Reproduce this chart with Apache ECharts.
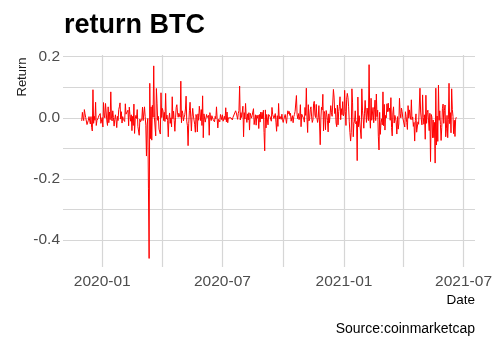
<!DOCTYPE html>
<html>
<head>
<meta charset="utf-8">
<script src="https://cdn.jsdelivr.net/npm/echarts@6/dist/echarts.min.js"></script>
<style>
  html, body { margin: 0; padding: 0; background: #ffffff; }
  #chart { width: 495px; height: 337px; }
</style>
</head>
<body>
<div id="chart"></div>
<script>
// Daily BTC returns, one array per month, starting 2019-12-01
const dec2019 = [-0.010, 0.018, 0.000, -0.009, 0.027, 0.013, 0.001, 0.001, -0.022, -0.017, -0.008, 0.004, 0.004, -0.020, 0.004, -0.031, -0.043, 0.092, -0.018, 0.005, -0.008, 0.051, -0.025, -0.009, -0.007, 0.000, 0.007, 0.009, 0.014, -0.018, -0.014];
const jan2020 = [0.001, -0.030, 0.050, 0.009, 0.000, 0.047, 0.049, -0.010, -0.025, 0.036, -0.016, 0.019, -0.006, 0.085, -0.002, -0.010, 0.023, 0.001, -0.027, -0.006, 0.010, -0.007, -0.032, 0.005, -0.009, 0.027, 0.036, 0.049, -0.004, 0.020, -0.017];
const feb2020 = [0.004, -0.005, -0.005, -0.012, 0.046, 0.012, 0.007, 0.007, 0.025, -0.026, 0.035, 0.011, -0.011, 0.010, -0.042, 0.005, -0.025, 0.045, -0.051, -0.003, 0.008, -0.002, 0.027, -0.028, -0.033, -0.057, -0.004, -0.013, -0.008];
const mar2020 = [-0.004, 0.035, -0.009, -0.004, 0.036, 0.005, -0.024, -0.125, -0.023, -0.002, -0.230, -0.460, 0.113, -0.068, 0.036, -0.073, 0.041, 0.002, 0.170, 0.001, -0.002, -0.059, 0.096, 0.048, -0.008, 0.005, -0.037, -0.036, -0.053, 0.082, 0.001];
const apr2020 = [0.031, 0.023, -0.009, 0.018, -0.012, 0.080, -0.004, 0.009, -0.009, -0.062, -0.001, 0.016, -0.018, 0.000, -0.030, 0.069, -0.003, 0.022, -0.009, -0.044, 0.000, 0.034, 0.043, 0.016, 0.002, 0.015, 0.015, 0.002, 0.120, -0.016];
const may2020 = [0.023, 0.014, -0.010, 0.002, 0.010, 0.029, 0.071, -0.011, -0.026, -0.091, -0.018, 0.023, 0.051, 0.049, -0.043, 0.005, 0.031, 0.006, 0.000, -0.021, -0.047, 0.011, 0.003, -0.046, 0.013, -0.008, 0.038, 0.037, -0.009, 0.027, -0.025];
const jun2020 = [0.072, -0.065, 0.013, 0.015, -0.014, -0.001, 0.011, 0.001, 0.002, 0.008, -0.057, 0.017, 0.000, -0.009, 0.007, 0.009, -0.006, -0.007, -0.013, 0.005, -0.003, 0.036, -0.002, -0.033, -0.005, -0.011, -0.013, 0.011, 0.005, -0.006];
const jul2020 = [0.010, -0.011, -0.004, 0.005, -0.006, 0.033, -0.013, 0.019, -0.016, 0.000, -0.004, 0.004, -0.004, 0.000, -0.006, -0.007, 0.002, 0.001, 0.003, -0.002, 0.023, 0.016, 0.006, -0.005, 0.015, 0.023, 0.104, -0.007, 0.017, 0.001, 0.019];
const aug2020 = [0.038, -0.062, 0.017, -0.004, 0.047, 0.003, -0.015, 0.013, -0.007, 0.017, -0.040, 0.015, 0.017, -0.001, 0.008, 0.002, 0.030, -0.022, -0.020, 0.010, -0.024, 0.008, -0.001, 0.009, -0.035, 0.011, -0.014, 0.019, -0.003, 0.018, -0.003];
const sep2020 = [0.025, -0.048, -0.108, 0.026, -0.033, 0.011, 0.009, -0.023, 0.011, 0.012, 0.004, 0.004, -0.011, 0.034, 0.011, 0.016, -0.002, 0.000, 0.014, -0.014, -0.044, 0.007, -0.028, 0.047, -0.004, 0.005, 0.002, -0.005, 0.012, -0.006];
const oct2020 = [-0.015, -0.004, -0.002, 0.011, 0.011, -0.018, 0.006, 0.023, 0.014, 0.021, 0.008, 0.015, -0.011, 0.000, 0.007, -0.016, 0.004, 0.011, 0.021, 0.015, 0.073, 0.011, -0.003, 0.014, -0.006, 0.003, 0.043, -0.029, 0.012, 0.008, 0.017];
const nov2020 = [-0.003, -0.014, 0.034, 0.008, 0.097, -0.001, -0.048, 0.043, -0.010, -0.003, 0.027, 0.036, 0.003, -0.015, -0.007, 0.047, 0.054, 0.009, 0.001, 0.044, 0.001, -0.015, 0.000, 0.040, -0.020, -0.088, -0.002, 0.035, 0.026, 0.077];
const dec2020 = [-0.043, 0.021, 0.013, -0.039, 0.024, 0.010, -0.008, -0.046, 0.013, -0.016, -0.011, 0.040, 0.018, 0.005, 0.009, 0.093, 0.068, 0.014, 0.031, -0.017, -0.029, 0.042, -0.023, 0.021, 0.038, 0.069, -0.006, 0.030, 0.010, 0.053, 0.006];
const jan2021 = [0.013, 0.090, 0.020, -0.025, 0.061, 0.080, 0.067, 0.036, -0.013, -0.048, -0.076, -0.047, 0.095, 0.049, -0.062, -0.018, -0.011, 0.023, -0.020, -0.012, -0.140, 0.068, -0.029, 0.007, 0.002, 0.006, -0.068, 0.095, 0.025, -0.001, -0.034];
const feb2021 = [0.013, 0.057, 0.054, -0.015, 0.032, 0.029, -0.009, 0.174, 0.006, -0.034, 0.064, -0.008, -0.008, 0.034, -0.016, 0.026, 0.058, -0.009, 0.078, 0.004, 0.025, -0.060, -0.105, 0.018, -0.054, -0.016, -0.003, -0.023];
const mar2021 = [0.085, -0.026, 0.044, -0.040, 0.008, 0.000, 0.046, 0.020, 0.048, 0.021, 0.032, -0.008, 0.066, -0.032, -0.059, 0.016, 0.036, -0.017, 0.008, -0.001, -0.014, -0.053, 0.004, -0.037, -0.020, 0.064, 0.015, 0.000, 0.032, 0.020, 0.000];
const apr2021 = [0.003, 0.005, -0.030, 0.020, 0.005, -0.015, -0.038, 0.040, -0.001, 0.026, 0.007, -0.005, 0.059, -0.006, 0.003, -0.028, -0.015, -0.076, -0.009, 0.013, -0.047, -0.041, -0.013, -0.021, -0.021, 0.097, 0.019, -0.004, -0.023, 0.075];
const may2021 = [0.001, -0.021, 0.010, -0.070, 0.074, -0.018, 0.017, 0.025, -0.010, -0.042, 0.015, -0.143, 0.011, 0.003, -0.065, -0.007, -0.065, -0.015, -0.148, 0.097, -0.089, 0.006, -0.077, 0.107, -0.008, 0.023, -0.022, -0.074, -0.031, 0.030, 0.045];
const jun2021 = [-0.018, 0.024, 0.042, -0.062, -0.036, 0.008, -0.065, -0.005, 0.113, -0.019, 0.017, -0.049, 0.095, 0.028, 0.005, -0.052, -0.008, -0.061, -0.005, 0.002];

const returns = [].concat(
  dec2019, jan2020, feb2020, mar2020, apr2020, may2020, jun2020,
  jul2020, aug2020, sep2020, oct2020, nov2020, dec2020,
  jan2021, feb2021, mar2021, apr2021, may2021, jun2021
);

// Axis breaks
const yGridValues = [-0.4, -0.3, -0.2, -0.1, 0, 0.1, 0.2];
const yLabelValues = [-0.4, -0.2, 0, 0.2];
const xMajorDates = [[2020, 0, 1], [2020, 6, 1], [2021, 0, 1], [2021, 6, 1]];
const xMinorDates = [[2020, 3, 1], [2020, 9, 1], [2021, 3, 1]];

const ts = d => new Date(d[0], d[1], d[2]).getTime();
const points = returns.map((r, i) => [new Date(2019, 11, 1 + i).getTime(), r]);
const tFirst = points[0][0];
const tLast = points[points.length - 1][0];
const pad = (tLast - tFirst) * 0.05;

const xMajor = xMajorDates.map(ts);
const xGrid = xMajor.concat(xMinorDates.map(ts)).sort((a, b) => a - b);

const FONT = '"Liberation Sans", Arial, sans-serif';
const gridColor = '#d6d6d6';

const chart = echarts.init(document.getElementById('chart'), null, { renderer: 'canvas' });
chart.setOption({
  animation: false,
  backgroundColor: '#ffffff',
  grid: { left: 63, right: 19, top: 55, bottom: 70 },
  xAxis: {
    type: 'value',
    min: tFirst - pad,
    max: tLast + pad,
    axisLine: { show: false },
    axisTick: { show: false, customValues: xGrid },
    splitLine: { show: true, lineStyle: { color: gridColor, width: 1.2 } },
    axisLabel: {
      customValues: xMajor,
      color: '#4d4d4d',
      fontSize: 15.5,
      fontFamily: FONT,
      margin: 7,
      showMinLabel: true,
      showMaxLabel: true,
      formatter: v => {
        const d = new Date(v);
        return d.getFullYear() + '-' + String(d.getMonth() + 1).padStart(2, '0');
      }
    }
  },
  yAxis: {
    type: 'value',
    min: -0.488,
    max: 0.2056,
    axisLine: { show: false },
    axisTick: { show: false, customValues: yGridValues },
    splitLine: { show: true, lineStyle: { color: gridColor, width: 1.2 } },
    axisLabel: {
      customValues: yLabelValues,
      color: '#4d4d4d',
      fontSize: 15.5,
      fontFamily: FONT,
      margin: 3,
      formatter: v => v.toFixed(1)
    }
  },
  series: [{
    type: 'line',
    data: points,
    symbol: 'none',
    showSymbol: false,
    sampling: null,
    lineStyle: { color: '#ff0000', width: 1 }
  }],
  graphic: [
    { type: 'text', x: 64, y: 26,
      style: { text: 'return BTC', font: 'bold 27px ' + FONT, fill: '#000000',
               align: 'left', verticalAlign: 'middle', textAlign: 'left', textVerticalAlign: 'middle' } },
    { type: 'text', x: 22, y: 77, rotation: Math.PI / 2,
      style: { text: 'Return', font: '13px ' + FONT, fill: '#1a1a1a',
               align: 'center', verticalAlign: 'middle', textAlign: 'center', textVerticalAlign: 'middle' } },
    { type: 'text', x: 475, y: 300,
      style: { text: 'Date', font: '13.5px ' + FONT, fill: '#000000',
               align: 'right', verticalAlign: 'middle', textAlign: 'right', textVerticalAlign: 'middle' } },
    { type: 'text', x: 475, y: 329,
      style: { text: 'Source:coinmarketcap', font: '14px ' + FONT, fill: '#000000',
               align: 'right', verticalAlign: 'middle', textAlign: 'right', textVerticalAlign: 'middle' } }
  ]
});
</script>
</body>
</html>
